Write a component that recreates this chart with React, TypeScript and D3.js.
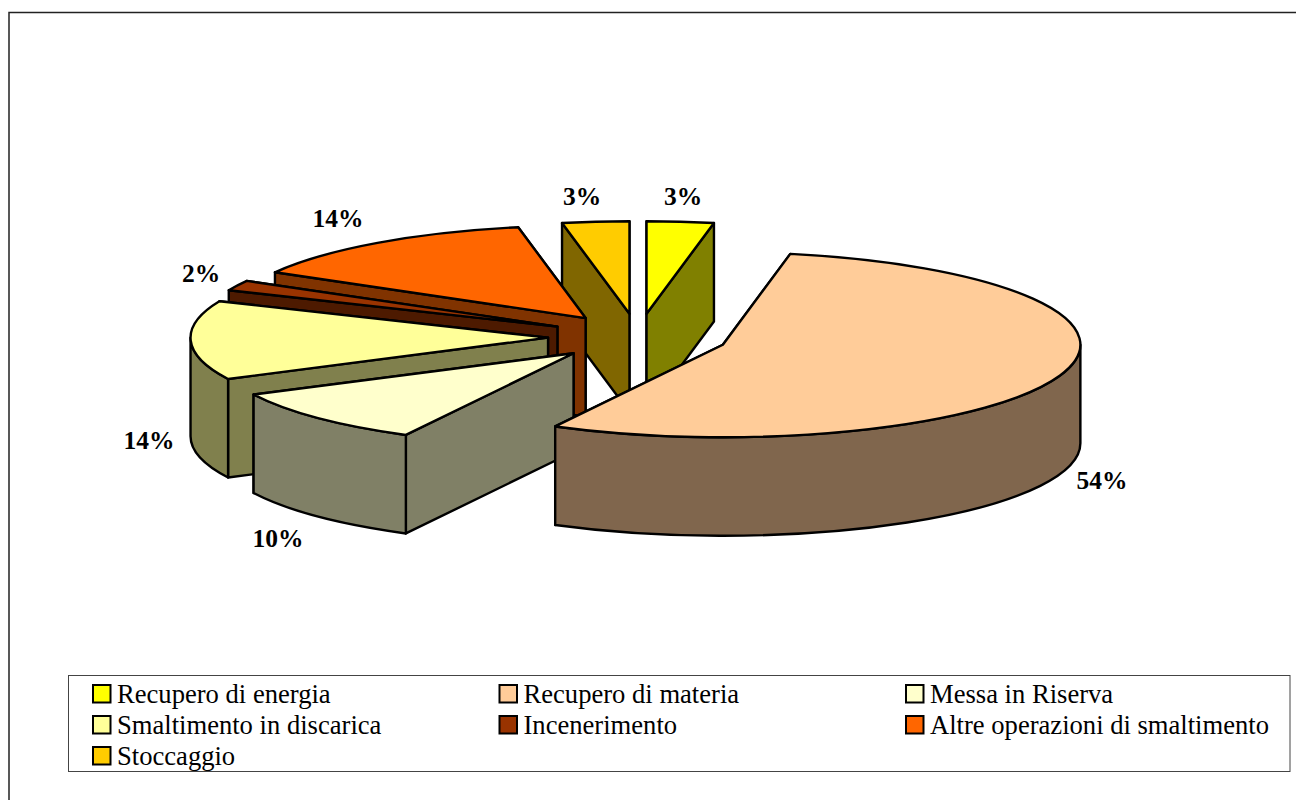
import React from "react";
import * as d3 from "d3";

const categories = ["Recupero di energia", "Recupero di materia", "Messa in Riserva", "Smaltimento in discarica", "Incenerimento", "Altre operazioni di smaltimento", "Stoccaggio"];
const values = [3.02, 54.75, 9.87, 13.8, 1.8, 13.74, 3.02];
const percentLabels = ["3%", "54%", "10%", "14%", "2%", "14%", "3%"];
const topColors = ["#ffff00", "#ffcc99", "#ffffcc", "#ffff99", "#993300", "#ff6600", "#ffcc00"];
const sideColors = ["#808000", "#80664d", "#808066", "#80804d", "#4d1a00", "#803300", "#806600"];
const labelAnchors: [number, number][] = [[683, 205], [1102, 489], [278, 547], [149, 449], [201, 282], [338, 227], [582, 205]];
const drawOrder = [6, 0, 5, 4, 3, 2, 1];
const legendCols = [92, 498.5, 905];
const legendRows = [684, 715, 746];

const CX = 638, CY = 337, RX = 357.5, RY = 92.5, DEPTH = 98.5, EXPLODE = 90;
const STROKE = 2.4;

const arcs = d3.pie<number>().sort(null).value((d) => d)(values);
const sx = d3.scaleLinear().domain([-1, 1]).range([-RX, RX]);
const sy = d3.scaleLinear().domain([-1, 1]).range([RY, -RY]);

function Slice({ i }: { i: number }) {
  const a = arcs[i];
  const mid = (a.startAngle + a.endAngle) / 2;
  const ax = CX + sx(Math.sin(mid)) * (EXPLODE / RX);
  const ay = CY + sy(Math.cos(mid)) * (EXPLODE / RX);
  const pt = (t: number): [number, number] => [ax + sx(Math.sin(t)), ay + sy(Math.cos(t))];
  const [x0, y0] = pt(a.startAngle);
  const [x1, y1] = pt(a.endAngle);
  const large = a.endAngle - a.startAngle > Math.PI ? 1 : 0;
  const top = `M${ax},${ay}L${x0},${y0}A${RX},${RY} 0 ${large} 1 ${x1},${y1}Z`;
  const wall = (x: number, y: number) =>
    `M${ax},${ay}L${x},${y}L${x},${y + DEPTH}L${ax},${ay + DEPTH}Z`;
  const walls = y0 > y1 ? [wall(x1, y1), wall(x0, y0)] : [wall(x0, y0), wall(x1, y1)];
  const s = Math.max(a.startAngle, Math.PI / 2);
  const e = Math.min(a.endAngle, (3 * Math.PI) / 2);
  let outer = "";
  if (e > s) {
    const [ox0, oy0] = pt(s);
    const [ox1, oy1] = pt(e);
    outer = `M${ox0},${oy0}A${RX},${RY} 0 0 1 ${ox1},${oy1}L${ox1},${oy1 + DEPTH}A${RX},${RY} 0 0 0 ${ox0},${oy0 + DEPTH}Z`;
  }
  const common = { stroke: "#000", strokeWidth: STROKE, strokeLinejoin: "round" as const };
  return (
    <g>
      {walls.map((d, k) => <path key={k} d={d} fill={sideColors[i]} {...common} />)}
      {outer && <path d={outer} fill={sideColors[i]} {...common} />}
      <path d={top} fill={topColors[i]} {...common} />
    </g>
  );
}

export default function App() {
  const font = "'Liberation Serif', 'Times New Roman', serif";
  return (
    <svg width={1296} height={800} style={{ position: "absolute", left: 0, top: 0, background: "#fff" }}>
      <path d="M9,800V12.5H1296" fill="none" stroke="#222" strokeWidth={1.5} />
      {drawOrder.map((i) => <Slice key={i} i={i} />)}
      {percentLabels.map((t, i) => (
        <text key={i} x={labelAnchors[i][0]} y={labelAnchors[i][1]} textAnchor="middle" fontFamily={font} fontWeight="bold" fontSize={25.5} fill="#000">{t}</text>
      ))}
      <rect x={68.5} y={675.5} width={1221.5} height={96} fill="#fff" stroke="#444" strokeWidth={1} />
      {categories.map((c, i) => {
        const x = legendCols[i % 3];
        const y = legendRows[Math.floor(i / 3)];
        return (
          <g key={c}>
            <rect x={x + 1} y={y + 1} width={17.5} height={17.5} fill={topColors[i]} stroke="#000" strokeWidth={2} />
            <text x={x + 25} y={y + 19} fontFamily={font} fontSize={26.6} fill="#000">{c}</text>
          </g>
        );
      })}
    </svg>
  );
}
